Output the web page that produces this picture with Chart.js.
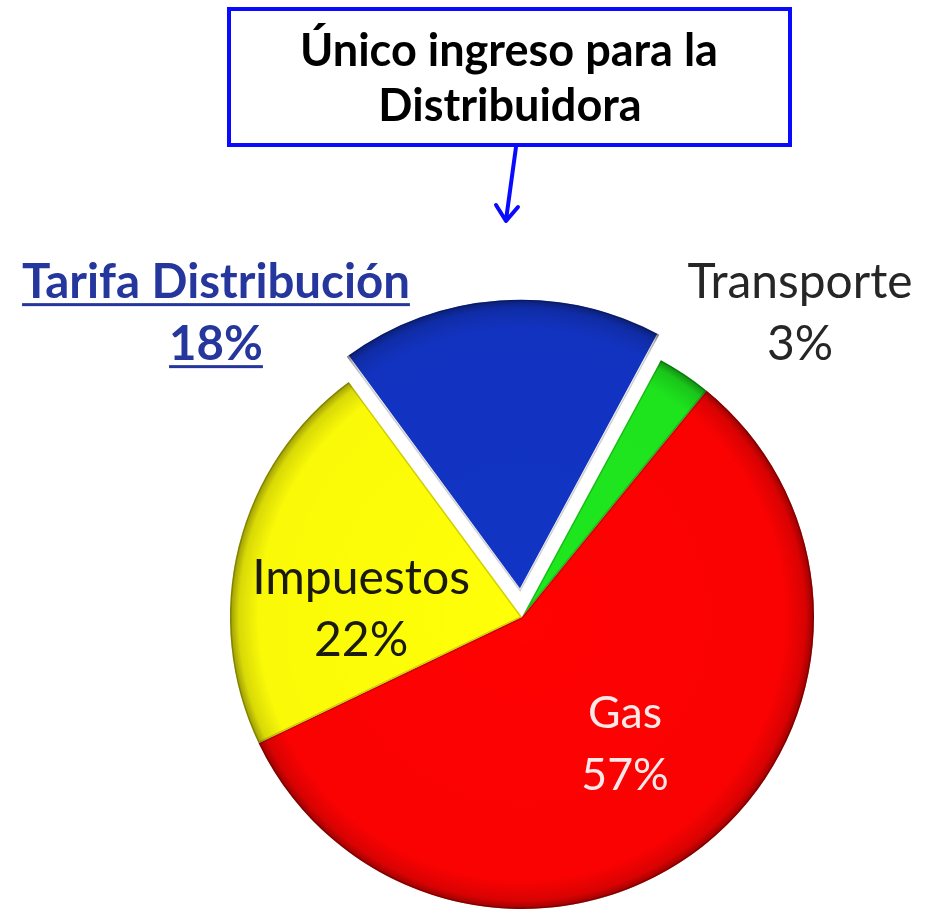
<!DOCTYPE html>
<html>
<head>
<meta charset="utf-8">
<script src="https://cdn.jsdelivr.net/npm/chart.js@4.4.1/dist/chart.umd.min.js"></script>
<style>
  html, body { margin: 0; padding: 0; background: #fff; }
  canvas { display: block; }
</style>
</head>
<body>
<canvas id="chart" width="929" height="913"></canvas>
<script>
// data
const labels = ['Tarifa Distribución', 'Transporte', 'Gas', 'Impuestos'];
const values = [18, 3, 57, 22];
const titleLines = ['Único ingreso para la', 'Distribuidora'];

// styles
const colors = ['#1234c4', '#1ee81e', '#ff0202', '#ffff08'];
// chart.js v4 moves an arc by offset / 4, so 100 gives ~25px
const offsets = [100, 0, 0, 0];
const borderWidths = [4, 0, 0, 0];
const FONT = 'Lato, "Open Sans", sans-serif';

// label anchors, in units of the pie radius from the centre
const labelStyle = [
    { dx: -1.048, dy: -1.092, bold: true, color: '#25369c', width: 388, underline: true },
    { dx: 0.952, dy: -1.092, bold: false, color: '#262626', width: 225 },
    { dx: 0.353, dy: 0.380, bold: false, color: '#ffe8e8', width: 74 },
    { dx: -0.551, dy: -0.079, bold: false, color: '#1a1a10', width: 218 }
];

function fitSize(ctx, text, weight, target) {
    ctx.font = weight + ' 40px ' + FONT;
    return 40 * target / ctx.measureText(text).width;
}

const decorPlugin = {
    id: 'decor',
    afterDatasetsDraw(chart) {
        const ctx = chart.ctx;
        const meta = chart.getDatasetMeta(0);
        // bevel shading on each slice, following the arc the library drew
        meta.data.forEach((arc) => {
            const p = arc.getProps(['x', 'y', 'startAngle', 'endAngle', 'outerRadius', 'circumference']);
            const mid = (p.startAngle + p.endAngle) / 2;
            const off = (arc.options.offset || 0) / 4;
            const fix = 1 - Math.sin(Math.min(Math.PI, p.circumference || 0));
            const cx = p.x + Math.cos(mid) * off;
            const cy = p.y + Math.sin(mid) * off;
            const r = p.outerRadius + off * fix - (arc.options.borderWidth ? 2 : 0);
            ctx.save();
            ctx.beginPath();
            ctx.moveTo(cx, cy);
            ctx.arc(cx, cy, r, p.startAngle, p.endAngle);
            ctx.closePath();
            ctx.clip();
            const g = ctx.createRadialGradient(cx, cy, 0, cx, cy, r);
            g.addColorStop(0, 'rgba(0,0,0,0)');
            g.addColorStop(0.9, 'rgba(0,0,0,0.02)');
            g.addColorStop(0.97, 'rgba(0,0,0,0.15)');
            g.addColorStop(1, 'rgba(0,0,0,0.4)');
            ctx.fillStyle = g;
            ctx.fillRect(cx - r, cy - r, 2 * r, 2 * r);
            ctx.lineWidth = 3;
            ctx.strokeStyle = 'rgba(0,0,0,0.18)';
            ctx.stroke();
            ctx.restore();
        });
    },
    afterDraw(chart) {
        const ctx = chart.ctx;
        const arc0 = chart.getDatasetMeta(0).data[0];
        const cx = arc0.x, cy = arc0.y, r = arc0.outerRadius;

        // slice labels
        ctx.save();
        ctx.textAlign = 'center';
        ctx.textBaseline = 'alphabetic';
        labels.forEach((name, i) => {
            const s = labelStyle[i];
            const weight = s.bold ? 'bold' : 'normal';
            const size = fitSize(ctx, name, weight, s.width);
            ctx.font = weight + ' ' + size + 'px ' + FONT;
            ctx.fillStyle = s.color;
            const x = cx + s.dx * r;
            const y = cy + s.dy * r;
            const lines = [name, values[i] + '%'];
            lines.forEach((t, k) => {
                const ly = y + k * 62;
                ctx.fillText(t, x, ly);
                if (s.underline) {
                    const w = ctx.measureText(t).width;
                    ctx.fillRect(x - w / 2, ly + 5, w, 3);
                }
            });
        });
        ctx.restore();

        // title box
        ctx.save();
        ctx.strokeStyle = '#0a0aff';
        ctx.lineWidth = 4;
        ctx.strokeRect(229, 9, 561, 136);
        ctx.fillStyle = '#000';
        ctx.textAlign = 'center';
        const tSize = fitSize(ctx, titleLines[0], 'bold', 418);
        ctx.font = 'bold ' + tSize + 'px ' + FONT;
        ctx.fillText(titleLines[0], 509, 66);
        ctx.fillText(titleLines[1], 510, 121);

        // arrow
        ctx.lineCap = 'round';
        ctx.lineJoin = 'round';
        ctx.beginPath();
        ctx.moveTo(516, 147);
        ctx.lineTo(506, 220);
        ctx.moveTo(496, 205);
        ctx.lineTo(506, 221);
        ctx.lineTo(518, 207);
        ctx.stroke();
        ctx.restore();
    }
};

new Chart(document.getElementById('chart'), {
    type: 'pie',
    data: {
        labels: labels,
        datasets: [{
            data: values,
            backgroundColor: colors,
            borderColor: '#ffffff',
            borderWidth: borderWidths,
            offset: offsets,
            radius: 292,
            clip: false
        }]
    },
    options: {
        responsive: false,
        animation: false,
        rotation: -36.4,
        layout: { padding: { left: 200, right: 85, top: 321, bottom: 0 } },
        plugins: {
            legend: { display: false },
            tooltip: { enabled: false }
        }
    },
    plugins: [decorPlugin]
});
</script>
</body>
</html>
